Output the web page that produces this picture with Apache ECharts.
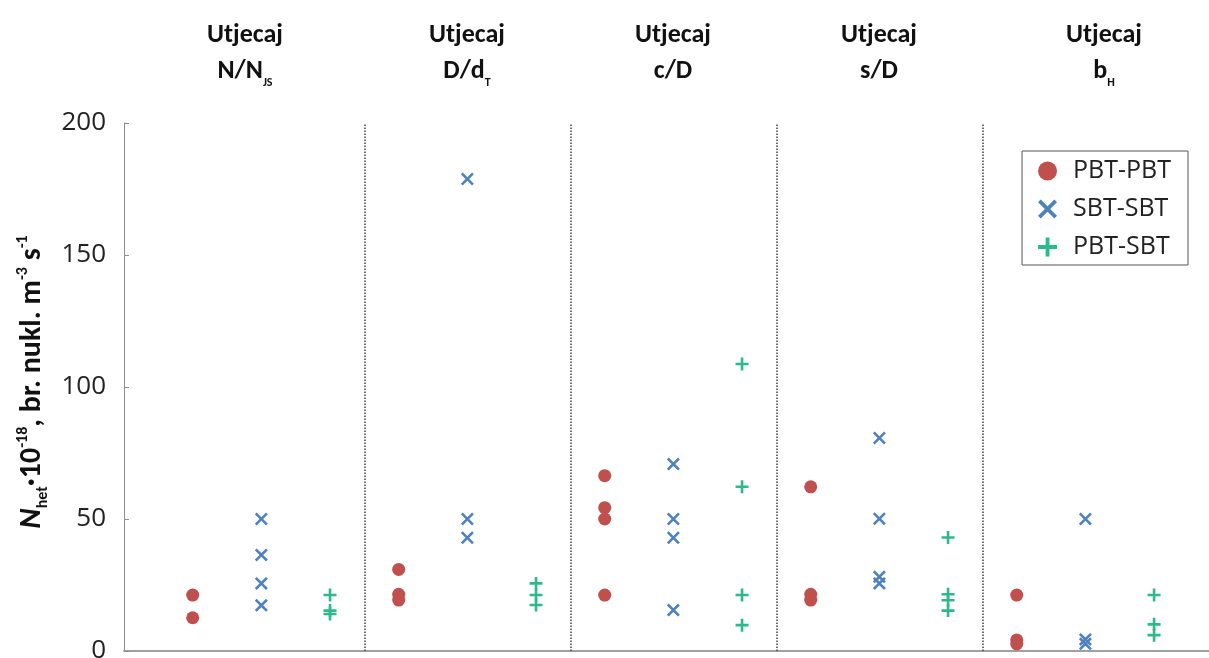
<!DOCTYPE html>
<html><head><meta charset="utf-8">
<script src="https://cdn.jsdelivr.net/npm/echarts@6/dist/echarts.min.js"></script>
<style>html,body{margin:0;padding:0;background:#fff}#c{width:1209px;height:658px}</style>
</head><body><div id="c"></div>
<script>
// ---- data ----
const groupMain = ['N/N', 'D/d', 'c/D', 's/D', 'b'];
const groupSub = ['JS', 'T', '', '', 'H'];
const seriesNames = ['PBT-PBT', 'SBT-SBT', 'PBT-SBT'];
const pbtPbt = [[21.2, 12.6], [30.9, 21.5, 19.3], [66.4, 54.3, 50.0, 21.2], [62.2, 21.5, 19.3], [21.2, 4.2, 2.7]];
const sbtSbt = [[50, 36.4, 25.6, 17.3], [178.8, 50, 42.9], [70.8, 50, 42.9, 15.5], [80.7, 50.1, 28.1, 25.6], [50, 4.4, 2.7]];
const pbtSbt = [[21.2, 15.3, 14.0], [25.6, 21.2, 17.4], [108.7, 62.2, 21.2, 9.8], [43.0, 21.5, 19.2, 15.3], [21.2, 10.1, 6.0]];
const yTicks = [0, 50, 100, 150, 200];

// ---- build ----
const FONT = 'Carlito, Lato, sans-serif';
const FONT2 = '"Open Sans", sans-serif';
const allSeries = [pbtPbt, sbtSbt, pbtSbt];
const colors = ['#C0504D', '#4F81BD', '#2DB98A'];
const symbols = [
  'circle',
  'path://M0,1.4L1.4,0L5,3.6L8.6,0L10,1.4L6.4,5L10,8.6L8.6,10L5,6.4L1.4,10L0,8.6L3.6,5Z',
  'path://M4,0H6V4H10V6H6V10H4V6H0V4H4Z'
];
const sizes = [13, 13, 13];
const nG = groupMain.length;
const dividers = [];
for (let g = 1; g < nG; g++) dividers.push({ xAxis: g * 3 + 0.5 });

const series = allSeries.map((vals, si) => {
  const data = [];
  vals.forEach((arr, g) => arr.forEach(v => data.push([g * 3 + si + 1, v])));
  const s = {
    name: seriesNames[si], type: 'scatter', data,
    symbol: symbols[si], symbolSize: sizes[si],
    itemStyle: { color: colors[si], opacity: 1 },
    z: 3 + si
  };
  if (si === 0) {
    s.markLine = {
      silent: true, symbol: ['none', 'none'], label: { show: false },
      lineStyle: { type: 'dotted', color: '#444', width: 1.5 },
      data: dividers, animation: false
    };
  }
  return s;
});

const titleCenters = [245, 467, 673, 879, 1104];
const graphics = groupMain.map((m, i) => ({
  type: 'text', x: titleCenters[i], y: 17,
  style: {
    text: '{b|Utjecaj}\n{b|' + m + '}' + (groupSub[i] ? '{s|' + groupSub[i] + '}' : ''),
    align: 'center', textAlign: 'center',
    rich: {
      b: { fontSize: 26, fontWeight: 'bold', fontFamily: FONT, lineHeight: 36, fill: '#111', color: '#111' },
      s: { fontSize: 12, fontWeight: 'bold', fontFamily: FONT, lineHeight: 12, verticalAlign: 'bottom', fill: '#111', color: '#111' }
    }
  }
}));

const chart = echarts.init(document.getElementById('c'));
chart.setOption({
  animation: false,
  textStyle: { fontFamily: FONT },
  grid: { left: 124, right: 0, top: 123, bottom: 7, containLabel: false, outerBoundsMode: 'none' },
  xAxis: {
    type: 'value', min: 0, max: 15.8,
    axisLine: { show: true, lineStyle: { color: '#a0a0a0', width: 2 } },
    axisTick: { show: false }, axisLabel: { show: false }, splitLine: { show: false }
  },
  yAxis: {
    type: 'value', min: yTicks[0], max: yTicks[yTicks.length - 1], interval: yTicks[1] - yTicks[0],
    axisLine: { show: true, lineStyle: { color: '#8c8c8c', width: 1 } },
    axisTick: { show: true, inside: true, length: 5, lineStyle: { color: '#8c8c8c' } },
    splitLine: { show: false },
    axisLabel: { fontSize: 26, color: '#222', margin: 18, fontFamily: FONT2 },
    name: '{i|N}{sub|het}{n|·10}{sup|-18}{n|, br. nukl. m}{sup|-3}{n| s}{sup|-1}',
    nameLocation: 'middle', nameRotate: 90, nameGap: 72,
    nameTextStyle: {
      padding: [0, 0, 0, 10],
      rich: {
        i: { fontSize: 31, fontWeight: 'bold', fontStyle: 'italic', color: '#111', lineHeight: 36, fontFamily: FONT },
        n: { fontSize: 30, fontWeight: 'bold', color: '#111', lineHeight: 36, fontFamily: FONT },
        sub: { fontSize: 16, fontWeight: 'bold', color: '#111', lineHeight: 15, verticalAlign: 'bottom', fontFamily: FONT },
        sup: { fontSize: 16, fontWeight: 'bold', color: '#111', lineHeight: 15, verticalAlign: 'top', fontFamily: FONT }
      }
    }
  },
  legend: {
    orient: 'vertical', right: 21, top: 151,
    data: seriesNames,
    borderColor: '#555', borderWidth: 1, padding: [6, 17, 4, 16],
    itemGap: 10, itemWidth: 19, itemHeight: 19,
    textStyle: { fontSize: 25, color: '#222', fontFamily: FONT2, lineHeight: 28, padding: [0, 0, 0, 11] }
  },
  graphic: graphics,
  series
});
</script></body></html>
